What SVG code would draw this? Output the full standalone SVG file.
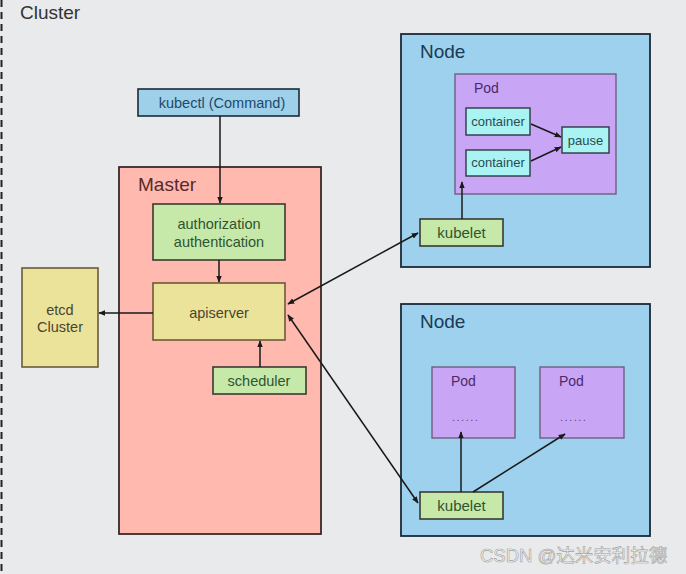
<svg xmlns="http://www.w3.org/2000/svg" width="686" height="574" viewBox="0 0 686 574">
<style>
text{font-family:"Liberation Sans",Arial,sans-serif}
.box{stroke-width:1.6}
.green{fill:#c6e9aa;stroke:#3a3a30}
.yellow{fill:#ece39b;stroke:#6a5a3a}
.node{fill:#9dd1ed;stroke:#1c2a38;stroke-width:1.8}
.pod{fill:#c9a5f5;stroke:#6e5f80;stroke-width:1.4}
.cont{fill:#aaf3f3;stroke:#2a3a40;stroke-width:1.4}
.t13{font-size:14.5px;text-anchor:middle}
.c12{font-size:13px;text-anchor:middle;fill:#2a4a50}
.gtxt{fill:#2f5430}
.ytxt{fill:#4a4530}
.big{font-size:19px}
.podt{font-size:14px;fill:#4a2a6a}
.dots{font-size:11px;fill:#5a4a7a;letter-spacing:1.5px}
.conn{stroke:#1a1a1a;stroke-width:1.5;fill:none}
</style>
<defs>
<marker id="ah" viewBox="0 0 10 10" refX="9" refY="5" markerWidth="7" markerHeight="7" orient="auto-start-reverse" markerUnits="userSpaceOnUse">
<path d="M0,1 L10,5 L0,9 z" fill="#1a1a1a"/>
</marker>
</defs>
<rect x="0" y="0" width="686" height="574" fill="#e8eaeb"/>
<line x1="1.5" y1="0" x2="1.5" y2="574" stroke="#222" stroke-width="2" stroke-dasharray="7,5"/>
<text class="big" x="20" y="19" fill="#333">Cluster</text>

<g id="kubectl">
<rect class="box" x="138" y="89" width="161" height="27" fill="#9fd0ea" stroke="#1a2a3a"/>
<text class="t13" x="222" y="108" fill="#1e4a6b">kubectl (Command)</text>
</g>

<g id="master">
<rect x="119" y="167" width="202" height="367" fill="#ffb9af" stroke="#3a2a2a" stroke-width="1.8"/>
<text class="big" x="138" y="191" fill="#5a2a2a">Master</text>
</g>

<g id="auth">
<rect class="box green" x="153" y="204" width="132" height="56"/>
<text class="t13 gtxt" x="219" y="229">authorization</text>
<text class="t13 gtxt" x="219" y="247">authentication</text>
</g>

<g id="apiserver">
<rect class="box yellow" x="153" y="283" width="132" height="57"/>
<text class="t13 ytxt" x="219" y="318">apiserver</text>
</g>

<g id="scheduler">
<rect class="box green" x="213" y="367" width="93" height="27"/>
<text class="t13 gtxt" x="259" y="386">scheduler</text>
</g>

<g id="etcd">
<rect class="box yellow" x="22" y="268" width="76" height="99"/>
<text class="t13 ytxt" x="60" y="315">etcd</text>
<text class="t13 ytxt" x="60" y="332">Cluster</text>
</g>

<g id="node1">
<rect class="node" x="401" y="34" width="249" height="233"/>
<text class="big" x="420" y="58" fill="#1a3a55">Node</text>
</g>
<g id="pod1">
<rect class="pod" x="455" y="74" width="161" height="120"/>
<text class="podt" x="474" y="93">Pod</text>
</g>
<g id="container1">
<rect class="cont" x="466" y="108" width="64" height="27"/>
<text class="c12" x="498" y="126">container</text>
</g>
<g id="container2">
<rect class="cont" x="466" y="150" width="64" height="26"/>
<text class="c12" x="498" y="167">container</text>
</g>
<g id="pause">
<rect class="cont" x="562" y="127" width="47" height="26"/>
<text class="c12" x="585.5" y="145">pause</text>
</g>
<g id="kubelet1">
<rect class="box green" x="420" y="219" width="83" height="27"/>
<text class="t13 gtxt" x="461.5" y="238" style="font-size:15px">kubelet</text>
</g>

<g id="node2">
<rect class="node" x="401" y="304" width="249" height="232"/>
<text class="big" x="420" y="328" fill="#1a3a55">Node</text>
</g>
<g id="pod2">
<rect class="pod" x="432" y="367" width="83" height="71"/>
<text class="podt" x="451" y="386">Pod</text>
<text class="dots" x="452" y="421">......</text>
</g>
<g id="pod3">
<rect class="pod" x="540" y="367" width="84" height="71"/>
<text class="podt" x="559" y="386">Pod</text>
<text class="dots" x="560" y="421">......</text>
</g>
<g id="kubelet2">
<rect class="box green" x="420" y="492" width="83" height="27"/>
<text class="t13 gtxt" x="461.5" y="511" style="font-size:15px">kubelet</text>
</g>

<g id="connectors">
<line class="conn" x1="220" y1="116" x2="220" y2="203" marker-end="url(#ah)"/>
<line class="conn" x1="219" y1="260" x2="219" y2="282" marker-end="url(#ah)"/>
<line class="conn" x1="153" y1="313" x2="99" y2="313" marker-end="url(#ah)"/>
<line class="conn" x1="260" y1="367" x2="260" y2="341" marker-end="url(#ah)"/>
<line class="conn" x1="288" y1="304" x2="418" y2="233" marker-start="url(#ah)" marker-end="url(#ah)"/>
<line class="conn" x1="288" y1="315" x2="418" y2="503" marker-start="url(#ah)" marker-end="url(#ah)"/>
<line class="conn" x1="531" y1="124" x2="561" y2="137" marker-end="url(#ah)"/>
<line class="conn" x1="531" y1="161" x2="561" y2="147" marker-end="url(#ah)"/>
<line class="conn" x1="462" y1="219" x2="462" y2="182" marker-end="url(#ah)"/>
<line class="conn" x1="461" y1="492" x2="461" y2="432" marker-end="url(#ah)"/>
<line class="conn" x1="473" y1="492" x2="565" y2="434" marker-end="url(#ah)"/>
</g>

<text x="480" y="562" font-size="18.5" fill="#f7f7f7" stroke="#a0a0a0" stroke-width="0.6" style="font-family:'Liberation Sans','Noto Sans CJK SC',sans-serif">CSDN @达米安利拉德</text>
</svg>
